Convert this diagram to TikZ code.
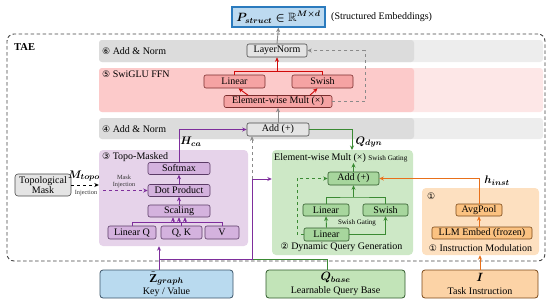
\documentclass[tikz,border=0pt]{standalone}
\usepackage{fontspec}
\setmainfont{Liberation Serif}
\newfontfamily\circfont{DejaVu Sans}
\usepackage{amsmath,amssymb,bm}
\usetikzlibrary{arrows.meta,calc}
\newcommand{\circd}[1]{{\circfont\fontsize{9}{10}\selectfont #1}}
\definecolor{grayDk}{HTML}{DCDCDC}
\definecolor{grayLt}{HTML}{EDEDED}
\definecolor{pinkDk}{HTML}{FCCACA}
\definecolor{pinkLt}{HTML}{FDE7E7}
\definecolor{nodeGray}{HTML}{E4E4E4}
\definecolor{edgeGray}{HTML}{4A4A4A}
\definecolor{redFill}{HTML}{F5A3A3}
\definecolor{redEdge}{HTML}{7A2E2E}
\definecolor{redLine}{HTML}{D10A0A}
\definecolor{purBg}{HTML}{E6D3EA}
\definecolor{purFill}{HTML}{D4B2DE}
\definecolor{purEdge}{HTML}{5B3B66}
\definecolor{purLine}{HTML}{7E2E9C}
\definecolor{grnBg}{HTML}{CDE8C6}
\definecolor{grnFill}{HTML}{A7D69D}
\definecolor{grnEdge}{HTML}{2F5A2B}
\definecolor{grnLine}{HTML}{3A8A33}
\definecolor{orgBg}{HTML}{FDE0C0}
\definecolor{orgFill}{HTML}{FBC281}
\definecolor{orgEdge}{HTML}{7A4818}
\definecolor{orgLine}{HTML}{E8701A}
\definecolor{blueFill}{HTML}{BDDAF0}
\definecolor{blueEdge}{HTML}{2B7BBE}
\definecolor{zFill}{HTML}{B9DAEF}
\definecolor{zEdge}{HTML}{3A5468}
\definecolor{qFill}{HTML}{C2E4B8}
\definecolor{tFill}{HTML}{FCD3A6}
\definecolor{lineGray}{HTML}{8A8A8A}
\definecolor{borderC}{HTML}{444444}
\begin{document}
\begin{tikzpicture}[x=1pt,y=-1pt,
  every node/.style={font=\fontsize{10}{11}\selectfont, inner sep=0pt},
  wh/.style n args={2}{minimum width=#1pt, minimum height=#2pt},
  box/.style={draw, rounded corners=2pt, line width=0.6pt, align=center},
  gnode/.style={box, draw=edgeGray, fill=nodeGray},
  rnode/.style={box, draw=redEdge, fill=redFill},
  pnode/.style={box, draw=purEdge, fill=purFill},
  gnnode/.style={box, draw=grnEdge, fill=grnFill},
  onode/.style={box, draw=orgEdge, fill=orgFill},
  inbox/.style={box, line width=0.8pt, rounded corners=3pt},
  arr/.style={-{Stealth[length=4.5pt,width=4pt]}, line width=0.9pt},
  ln/.style={line width=0.9pt},
  small/.style={font=\fontsize{7}{8}\selectfont},
  tiny/.style={font=\fontsize{6.3}{7}\selectfont, text=black!80},
  mlab/.style={font=\fontsize{11}{12}\selectfont},
]
\useasboundingbox (0,0) rectangle (550,303);

% top output
\node[draw=blueEdge, fill=blueFill, line width=1.2pt, wh={93}{20}, font=\fontsize{12}{13}\selectfont] (P) at (278.5,17) {$\bm{P_{struct}\in\mathbb{R}^{M\times d}}$};
\node[anchor=west] (SE) at (331,17) {(Structured Embeddings)};

% TAE border
\node[draw=borderC, dash pattern=on 3.5pt off 2.5pt, line width=0.9pt, rounded corners=7pt, wh={538}{227}] (TAE) at (276,147.5) {};
\node[anchor=west, font=\bfseries\fontsize{10.5}{12}\selectfont] (TAEl) at (14,47) {TAE};

% bands
\fill[grayLt, rounded corners=3pt] (99,40) rectangle (543,62);
\fill[grayDk, rounded corners=3pt] (99,40) rectangle (414,62);
\fill[pinkLt, rounded corners=3pt] (99,68) rectangle (543,112);
\fill[pinkDk, rounded corners=3pt] (99,68) rectangle (414,112);
\fill[grayLt, rounded corners=3pt] (99,118) rectangle (543,139);
\fill[grayDk, rounded corners=3pt] (99,118) rectangle (414,139);
\node[anchor=west] (L6) at (102,51) {\circd{⑥} Add \& Norm};
\node[anchor=west] (L5) at (102,74) {\circd{⑤} SwiGLU FFN};
\node[anchor=west] (L4) at (102,129) {\circd{④} Add \& Norm};

% containers
\node[fill=purBg, rounded corners=4pt, wh={149}{96}] (PB) at (173.5,198) {};
\node[fill=grnBg, rounded corners=4pt, wh={141}{105}] (GB) at (342.5,202.5) {};
\node[fill=orgBg, rounded corners=4pt, wh={117}{67}] (OB) at (480.5,221.5) {};
\node[anchor=west] (L3) at (102,157) {\circd{③} Topo-Masked};

% top nodes
\node[gnode, wh={60}{13}] (LN) at (277,50.5) {LayerNorm};
\node[rnode, wh={61}{13}] (Lin) at (234.5,81.5) {Linear};
\node[rnode, wh={61}{13}] (Sw) at (322.5,81.5) {Swish};
\node[rnode, wh={108}{12}] (EW) at (278,101.5) {Element-wise Mult (×)};
\node[gnode, wh={62}{13}] (Add) at (278,129.5) {Add (+)};

% purple
\node[pnode, wh={62}{12}] (Soft) at (179,168.5) {Softmax};
\node[pnode, wh={62}{12}] (Dot) at (179,190.5) {Dot Product};
\node[pnode, wh={62}{12}] (Scal) at (179,211) {Scaling};
\node[pnode, wh={48}{13}] (LQ) at (132,232.5) {Linear Q};
\node[pnode, wh={41}{13}] (QK) at (181.5,232.5) {Q, K};
\node[pnode, wh={34}{13}] (V) at (222,232.5) {V};

\node[gnode, wh={56}{22}, rounded corners=3pt, align=center, font=\fontsize{10}{10.5}\selectfont] (TM) at (43,185) {Topological\\Mask};

% green
\node[anchor=west] (GT) at (274,158) {Element-wise Mult (×) {\fontsize{7.2}{8}\selectfont Swish Gating}};
\node[gnnode, wh={51}{13}] (AddG) at (353.5,178.5) {Add (+)};
\node[gnnode, wh={46}{12}] (Lg) at (326,210) {Linear};
\node[gnnode, wh={45}{12}] (Swg) at (385.5,210) {Swish};
\node[gnnode, wh={45}{13}] (Lg2) at (326.5,234.5) {Linear};
\node[small] (SG) at (357,222.5) {Swish Gating};
\node (DQ) at (341.5,247.5) {\circd{②} Dynamic Query Generation};

% orange
\node[anchor=west] (O1) at (427,196) {\circd{①}};
\node[onode, wh={46}{12}] (AP) at (479,210) {AvgPool};
\node[onode, wh={100}{12}] (LLM) at (482,233) {LLM Embed (frozen)};
\node (IM) at (480.5,248) {\circd{①} Instruction Modulation};

% inputs
\node[inbox, draw=zEdge, fill=zFill, wh={133}{28}] (Z) at (166.5,284) {{\fontsize{12}{12}\selectfont$\tilde{\mathbf{Z}}_{\bm{graph}}$}\\[1.5pt]Key / Value};
\node[inbox, draw=grnEdge, fill=qFill, wh={139}{28}] (Qb) at (335.5,284) {{\fontsize{12}{12}\selectfont$\bm{Q_{base}}$}\\[1.5pt]Learnable Query Base};
\node[inbox, draw=orgEdge, fill=tFill, wh={116}{28}] (T) at (480,284) {{\fontsize{12}{12}\selectfont$\bm{I}$}\\[1.5pt]Task Instruction};

% ---- connectors ----
\draw[arr, lineGray] (LN.north) -- (P.south);
\coordinate (rj) at (277,71.5);
\draw[ln, redLine] (Lin.north) |- (rj) -| (Sw.north);
\draw[arr, redLine] (rj) -- (LN.south);
\draw[arr, redLine] ([xshift=-30pt]EW.north) -- ([xshift=4pt]Lin.south);
\draw[arr, redLine] ([xshift=32pt]EW.north) -- ([xshift=-5pt]Sw.south);
\draw[arr, lineGray, dashed] (EW.east) -- ++(33,0) |- (LN.east);
\draw[arr, lineGray] (Add.north) -- (EW.south);

\draw[arr, purLine] (Soft.north) |- (Add.west);
\node[mlab] (Hca) at (191,142) {$\bm{H_{ca}}$};
\coordinate (qd) at (352,150);
\draw[arr, grnLine] (Add.east) -| (qd);
\node[mlab] (Qdyn) at (369,142) {$\bm{Q_{dyn}}$};

\coordinate (pc) at (252,179);
\draw[arr, lineGray, dashed] (pc) -- (pc |- Add.south);
\coordinate (zj) at (159,259);
\draw[arr, purLine] (zj |- Z.north) -- (zj |- PB.south);
\coordinate (qj) at (327,259);
\draw[ln, grnLine] (qj |- Qb.north) -- (qj) -- (qj -| pc);
\draw[arr, purLine] (zj) -| (pc) -- (pc -| GB.west);

\coordinate (ih) at (179,222.5);
\draw[ln, purLine] (LQ.north) -- (LQ.north |- ih) -- (V.north |- ih) -- (V.north);
\draw[ln, purLine] (QK.north) -- (QK.north |- ih);
\foreach \dx in {-6,0,6} \draw[arr, purLine] ($(ih)+(\dx,0)$) -- ($(Scal.south)+(\dx,0)$);
\draw[arr, purLine] (Scal.north) -- (Dot.south);
\draw[arr, purLine] (Dot.north) -- (Soft.south);

\draw[arr, black, dashed] (TM.east) -- (TM.east -| PB.west);
\node[mlab] (Mt) at (84,176) {$\bm{M_{topo}}$};
\node[tiny] (Inj) at (86,193.5) {Injection};
\coordinate (md) at (103,190.5);
\draw[arr, purLine, dashed] (md) -- (Dot.west);
\node[tiny, align=center] (MI) at (124,181) {Mask\\Injection};

\draw[arr, grnLine] (Lg2.north) -- (Lg.south);
\draw[arr, grnLine] (Lg2.east) -| (Swg.south);
\coordinate (gj) at (353.5,197);
\draw[ln, grnLine] (Lg.north) |- (gj) -| (Swg.north);
\draw[arr, grnLine] (gj) -- (AddG.south);
\coordinate (gt) at (353.5,163);
\draw[arr, grnLine] (AddG.north) -- (gt);
\coordinate (gd) at (297,234.5);
\draw[arr, grnLine, dashed] (Lg2.west) -- (gd) |- (AddG.west);

\draw[arr, orgLine] (AP.north) |- (AddG.east);
\node[mlab] (hin) at (497,181) {$\bm{h_{inst}}$};
\draw[arr, orgLine] (AP.south |- LLM.north) -- (AP.south);
\draw[arr, orgLine] (T.north) -- (T.north |- OB.south);
\end{tikzpicture}
\end{document}
